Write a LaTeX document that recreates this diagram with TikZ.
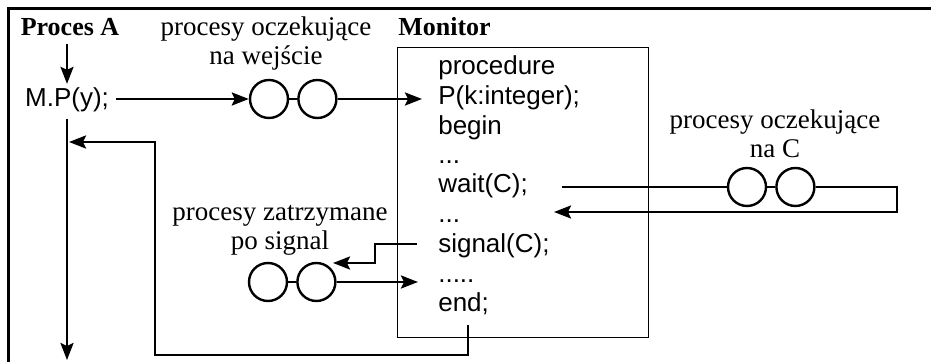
\documentclass[tikz,border=0pt]{standalone}
\usepackage{fontspec}
\setmainfont{Liberation Serif}
\setsansfont{Liberation Sans}
\usepackage{tikz}
\usetikzlibrary{arrows.meta,positioning}

\tikzset{
  arr/.style={-{Stealth[length=8.5pt,width=6.5pt,inset=1.5pt]}},
  lbl/.style={font=\fontsize{13.5}{14.5}\selectfont, align=center, inner sep=0pt},
  ttl/.style={font=\fontsize{13}{14}\selectfont\bfseries, inner sep=0pt},
  code/.style={font=\sffamily\fontsize{13}{15}\selectfont, anchor=base west, inner sep=0pt},
  qcirc/.style={circle, draw, line width=1.2pt, minimum size=19pt, inner sep=0pt},
}

\begin{document}
\begin{tikzpicture}[x=0.5pt,y=-0.5pt,line width=1.3pt]
\useasboundingbox (0,0) rectangle (931,362);
\draw[line width=1.5pt] (931,9) -- (8,9) -- (8,362);

% process A
\node[ttl, anchor=base] (procA) at (70,36) {Proces A};
\node[code, anchor=base] (mp) at (67,107) {M.P(y);};
\coordinate (bot) at (67,360);

% monitor
\node[ttl, anchor=base west] (montitle) at (397,36) {Monitor};
\node[draw, line width=0.5pt, minimum width=125.5pt, minimum height=145pt,
      anchor=north west, inner sep=0pt] (monitor) at (397,47) {};
\node[code] (proc) at (437,75) {procedure};
\node[code] (pline) at (437,105) {P(k:integer);};
\node[code] (beg) at (437,135) {begin};
\node[code] (dotsa) at (437,164) {...};
\node[code] (wait) at (437,193) {wait(C);};
\node[code] (dotsb) at (437,223) {...};
\node[code] (signal) at (437,253) {signal(C);};
\node[code] (dotsc) at (437,283) {.....};
\node[code] (endl) at (437,312) {end;};

% queues
\node[qcirc] (q1a) at (269,99) {};
\node[qcirc, right=4pt of q1a] (q1b) {};
\node[qcirc] (q2a) at (747,187) {};
\node[qcirc, right=4pt of q2a] (q2b) {};
\node[qcirc] (q3a) at (268,282) {};
\node[qcirc, right=4pt of q3a] (q3b) {};

\node[lbl] (lblIn) at (266,44) {procesy oczekujące\\na wejście};
\node[lbl] (lblC) at (775,134) {procesy oczekujące\\na C};
\node[lbl] (lblSig) at (280,230) {procesy zatrzymane\\po signal};

\coordinate (wout) at (562,187);
\coordinate (wturn) at (897,187);
\coordinate (wback) at (554,212);
\coordinate (sout) at (417,244);
\coordinate (sin) at (333,263);
\coordinate (estub) at (468,325);
\coordinate (rlow) at (155,355);
\coordinate (rback) at (69,142);

% connectors
\draw[arr, shorten <=3pt, shorten >=1.5pt] (procA.south -| mp) -- (mp);
\draw[arr, shorten <=2.5pt] (mp) -- (bot);
\draw[arr, shorten <=3pt] (mp.east |- q1a) -- (q1a);
\draw (q1a) -- (q1b);
\draw[arr, shorten >=7.5pt] (q1b) -- (q1b -| pline.west);
\draw (wout) -- (q2a);
\draw (q2a) -- (q2b);
\draw[arr] (q2b) -- (wturn) |- (wback);
\draw[arr] (sout) -- ++(-42,0) |- (sin);
\draw (q3a) -- (q3b);
\draw[arr, shorten >=9.5pt] (q3b) -- (q3b -| dotsc.west);
\draw[arr] (estub) |- (rlow) |- (rback);
\end{tikzpicture}
\end{document}
